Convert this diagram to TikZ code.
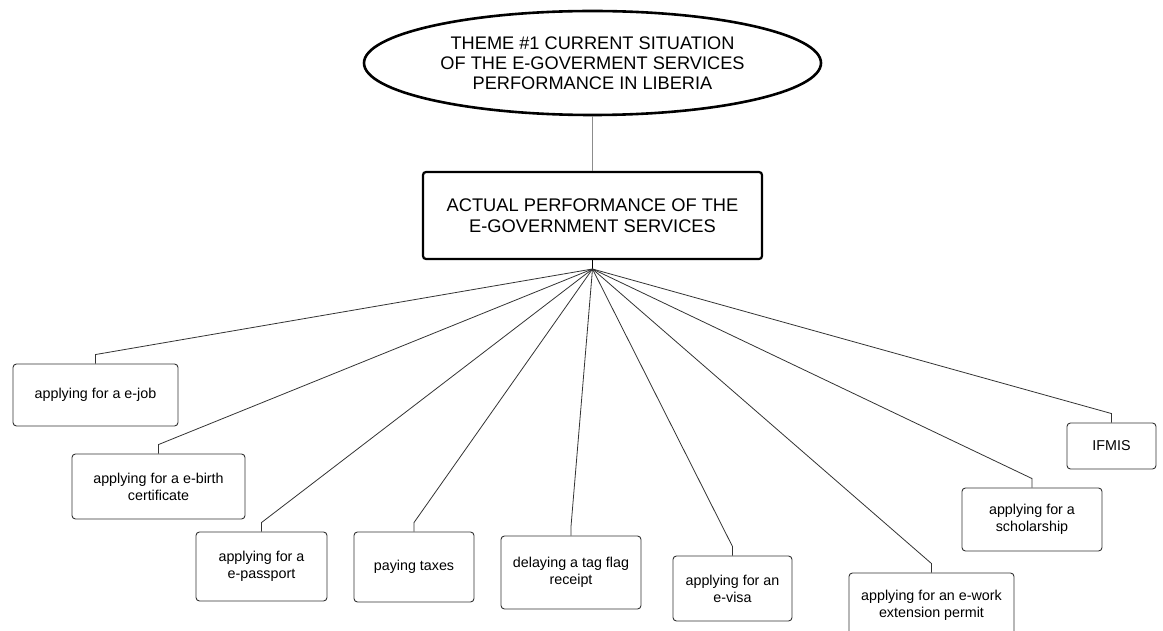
\documentclass[tikz,border=0pt]{standalone}
\usepackage{fontspec}
\setmainfont{Liberation Sans}
\usetikzlibrary{shapes.geometric}

\tikzset{
  theme/.style={ellipse, draw=black, line width=2.6pt, fill=white,
    inner sep=0pt, minimum width=457pt, minimum height=104pt, align=center,
    font=\fontsize{18.2pt}{20.2pt}\selectfont},
  mainbox/.style={rectangle, rounded corners=3pt, draw=black, line width=2.2pt,
    fill=white, inner sep=0pt, minimum width=339pt, minimum height=87pt,
    align=center, font=\fontsize{18.3pt}{21.5pt}\selectfont},
  leaf/.style={rectangle, rounded corners=3.5pt, draw=black!80, line width=0.9pt,
    fill=white, inner sep=0pt, align=center,
    font=\fontsize{14.3pt}{16.8pt}\selectfont},
  link/.style={draw=black!80, line width=0.8pt},
}

\begin{document}
\begin{tikzpicture}[x=1pt,y=-1pt]
  \useasboundingbox (0,0) rectangle (1163,631);
  \clip (0,0) rectangle (1163,631);

  % top of the hierarchy
  \node[theme] (theme) at (592.5,63)
    {THEME \#1 CURRENT SITUATION\\OF THE E-GOVERMENT SERVICES\\PERFORMANCE IN LIBERIA};
  \node[mainbox] (perf) at (592.5,215.5)
    {ACTUAL PERFORMANCE OF THE\\E-GOVERNMENT SERVICES};
  \coordinate (hub) at (592.5,269);

  \draw[draw=black!45, line width=1.8pt] (theme.south) -- (perf.north);
  \draw[draw=black, line width=1.8pt] (perf.south) -- (hub);

  % services
  \node[leaf, minimum width=165pt, minimum height=62pt] (ejob) at (95.5,395) {applying for a e-job};
  \node[leaf, minimum width=173pt, minimum height=65pt] (ebirth) at (158.5,486.5) {applying for a e-birth\\certificate};
  \node[leaf, minimum width=131pt, minimum height=69pt] (epass) at (261.5,566.5) {applying for a\\e-passport};
  \node[leaf, minimum width=120pt, minimum height=70pt] (taxes) at (414,567) {paying taxes};
  \node[leaf, minimum width=140pt, minimum height=73pt] (tag) at (571,572.5) {delaying a tag flag\\receipt};
  \node[leaf, minimum width=119pt, minimum height=65pt] (evisa) at (732.5,588.5) {applying for an\\e-visa};
  \node[leaf, minimum width=165pt, minimum height=65pt] (ework) at (931.5,605.5) {applying for an e-work\\extension permit};
  \node[leaf, minimum width=140pt, minimum height=63pt] (schol) at (1032,519.5) {applying for a\\scholarship};
  \node[leaf, minimum width=89pt, minimum height=46pt] (ifmis) at (1111.5,446) {IFMIS};

  % connectors from the hub, each with a short vertical drop
  \foreach \n in {ejob,ebirth,epass,taxes,tag,evisa,ework,schol,ifmis}
    \draw[link] (hub) -- ([yshift=9pt]\n.north) -- (\n.north);
\end{tikzpicture}
\end{document}
